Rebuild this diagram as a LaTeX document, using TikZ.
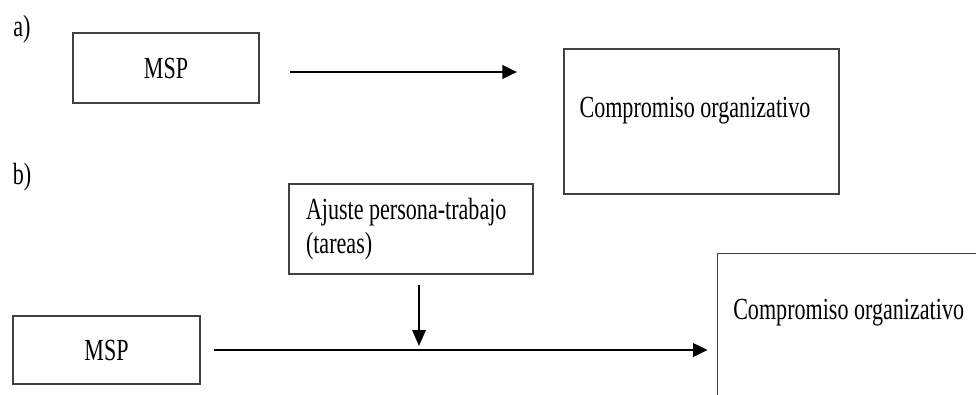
\documentclass[tikz,border=0pt]{standalone}
\usepackage{fontspec}
\setmainfont{Liberation Serif}[FakeStretch=0.72]
\usetikzlibrary{arrows.meta, positioning}

\tikzset{
	box/.style={draw=black!75, line width=1.1pt, inner sep=0pt},
	arr/.style={-{Triangle[length=11pt, width=10pt]}, line width=2.1pt},
	txt/.style={inner sep=0pt, anchor=west}
}

\begin{document}
\begin{tikzpicture}[x=0.75pt, y=-0.75pt, font=\fontsize{23}{26}\selectfont]

	% Dimensions (in px)
	\def\px{0.75pt}
	\clip (0,0) rectangle (976,394);

	% a) direct effect
	\node (lblA) at (22,29) {a)};
	\node[box, minimum width=186*\px, minimum height=70*\px] (mspA) at (166,68) {MSP};
	\node[box, minimum width=275*\px, minimum height=145*\px] (compA) at (701.5,121.5) {};
	\node[txt] (compAtxt) at ([shift={(16,-11)}]compA.west) {Compromiso organizativo};
	\coordinate (endA) at (517,72);
	\draw[arr, shorten <=23pt] (mspA.east |- endA) -- (endA);

	% b) moderated effect
	\node (lblB) at (22,177) {b)};
	\node[box, minimum width=244*\px, minimum height=90*\px, text width=157.5pt, align=flush left] (ajuste) at (411,229) {Ajuste persona-trabajo\\(tareas)};
	\node[box, minimum width=187*\px, minimum height=68*\px] (mspB) at (106.5,350) {MSP};
	\node[box, minimum width=300*\px, minimum height=200*\px, anchor=north west] (compB) at (717,253) {};
	\node[txt] (compBtxt) at ([shift={(16,60)}]compB.north west) {Compromiso organizativo};
	\draw[arr, shorten <=10pt, shorten >=7pt] (mspB.east) -- (mspB.east -| compB.west);

	% Moderator
	\coordinate (mod) at (419,350);
	\draw[arr, line width=1.4pt, -{Triangle[length=12pt, width=10pt]}, shorten <=8pt, shorten >=3pt] (ajuste.south -| mod) -- (mod);

\end{tikzpicture}
\end{document}
